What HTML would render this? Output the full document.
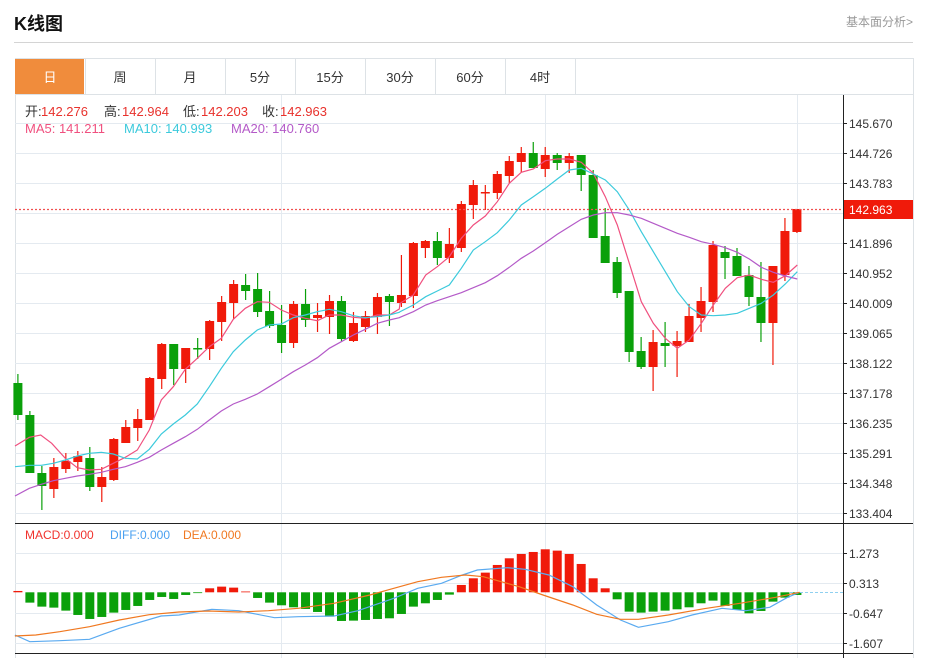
<!DOCTYPE html>
<html><head><meta charset="utf-8">
<style>
body{margin:0;background:#fff;font-family:"Liberation Sans","Noto Sans CJK SC",sans-serif;}
#wrap{position:relative;width:925px;height:658px;overflow:hidden;}
.abs{position:absolute;white-space:nowrap;}
</style></head><body>
<div id="wrap">
<div class="abs" style="left:14px;top:10px;font-size:18px;font-weight:bold;color:#111;">K线图</div>
<div class="abs" style="right:12px;top:13px;font-size:12px;color:#999;">基本面分析&gt;</div>
<div class="abs" style="left:14px;top:42px;width:899px;height:1px;background:#d4d4d4;"></div>
<svg id="s" width="925" height="658" style="position:absolute;left:0;top:0" xmlns="http://www.w3.org/2000/svg"></svg>
</div>
<script>
var S=document.getElementById('s');var h='';
function L(x1,y1,x2,y2,c,w,d){h+='<line x1="'+x1+'" y1="'+y1+'" x2="'+x2+'" y2="'+y2+'" stroke="'+c+'" stroke-width="'+(w||1)+'"'+(d?' stroke-dasharray="'+d+'"':'')+'/>';}
function R(x,y,w,hh,c,st){h+='<rect x="'+x+'" y="'+y+'" width="'+w+'" height="'+hh+'" fill="'+c+'"'+(st?' stroke="'+st+'"':'')+'/>';}
function T(x,y,t,c,s,a){h+='<text x="'+x+'" y="'+y+'" fill="'+c+'" font-size="'+s+'" '+(a?'text-anchor="'+a+'"':'')+' font-family="Liberation Sans, Noto Sans CJK SC, sans-serif">'+t+'</text>';}
// frame
L(15,58.5,913,58.5,'#dde2e6');L(15,94.5,913,94.5,'#dde2e6');L(913.5,58,913.5,658,'#dde2e6');L(15.5,58,15.5,658,'#dde2e6');
var tabs=['日','周','月','5分','15分','30分','60分','4时'];
for(var i=0;i<8;i++){var x=15+i*70; if(i==0)R(15,59,69,35,'#f08c3c'); L(x+70.5,58,x+70.5,94,'#dde2e6'); T(x+35,82,tabs[i],i==0?'#fff':'#333',13,'middle');}
// grids
for(var y=123;y<=513;y+=30)L(15,y+.5,843,y+.5,'#e4eaf0');
for(var y=553;y<=643;y+=30)L(15,y+.5,843,y+.5,'#e4eaf0');
[281,545,797].forEach(function(x){L(x+.5,95,x+.5,658,'#e4eaf0');});
// axes
L(843.5,95,843.5,658,'#222');L(15,523.5,913,523.5,'#222');L(15,653.5,913,653.5,'#222');
var pl=['145.670','144.726','143.783','','141.896','140.952','140.009','139.065','138.122','137.178','136.235','135.291','134.348','133.404'];
for(var k=0;k<14;k++){var y=123+30*k; if(pl[k]){L(843,y+.5,847,y+.5,'#222');T(849,y+5,pl[k],'#333',12);}}
var ml=['1.273','0.313','-0.647','-1.607'];
for(var k=0;k<4;k++){var y=553+30*k;L(843,y+.5,847,y+.5,'#222');T(849,y+5,ml[k],'#333',12);}
// candles [bodyTop,bodyBot,wickTop,wickBot,red?]
var C=[[383,415,374,420,0],[415,473,411,473,0],[473,486,466,510,0],[467,489,458,498,1],[461,469,453,473,1],[456,462,451,471,1],[458,487,447,491,0],[477,487,467,502,1],[439,480,438,481,1],[427,443,420,443,1],[419,428,409,441,1],[378,420,377,420,1],[344,379,343,389,1],[344,369,344,385,0],[348,369,348,383,1],[348,349,338,359,0],[321,349,320,360,1],[302,322,296,341,1],[284,303,280,319,1],[285,291,274,300,0],[289,312,273,317,0],[311,326,291,328,0],[325,343,305,353,0],[304,343,301,348,1],[304,320,289,327,0],[315,318,303,332,1],[301,317,295,334,1],[301,339,296,341,0],[323,341,312,342,1],[316,327,311,332,1],[297,317,293,334,1],[296,302,294,326,0],[295,303,255,307,1],[243,296,242,308,1],[241,248,240,258,1],[241,258,232,265,0],[244,258,228,263,1],[204,248,201,252,1],[185,205,180,219,1],[192,193,185,210,1],[174,193,171,199,1],[161,176,156,183,1],[153,162,147,172,1],[153,168,142,168,0],[155,169,147,177,1],[155,163,153,170,0],[156,163,153,173,1],[155,175,155,191,0],[175,238,170,238,0],[236,263,208,263,0],[262,293,257,298,0],[291,352,291,362,0],[351,367,337,369,0],[342,367,330,391,1],[343,346,322,367,0],[341,346,331,377,1],[316,342,304,342,1],[301,318,287,332,1],[245,302,241,312,1],[252,258,246,279,0],[256,276,248,276,0],[275,297,266,306,0],[297,323,262,342,0],[266,323,266,365,1],[231,275,218,281,1],[209,232,209,233,1]];
function cx(i){return 17.9+i*11.985;}
C.forEach(function(c,i){var x=cx(i),col=c[4]?'#f01a0a':'#0aa00a';L(x,c[2],x,c[3],col,1.2);R(x-4.5,c[0],9,Math.max(1.5,c[1]-c[0]),col);});
// MA lines
function pl2(a,b,col){var p=[];a.forEach(function(q){p.push((q[0]/3).toFixed(1)+','+(130+q[1]/3).toFixed(1));});b.forEach(function(q){p.push((400+q[0]/3).toFixed(1)+','+(130+q[1]/3).toFixed(1));});h+='<polyline fill="none" stroke="'+col+'" stroke-width="1.2" points="'+p.join(' ')+'"/>';}
pl2([[45,948],[88,922],[122,915],[155,940],[196,985],[232,1013],[268,1020],[304,1018],[340,1000],[376,982],[412,960],[448,900],[484,810],[520,770],[556,718],[592,685],[628,650],[664,625],[700,568],[736,535],[772,515],[808,517],[844,540],[880,555],[916,565],[952,572],[988,555],[1024,555],[1060,562],[1096,565],[1132,555],[1168,555],[1198,537]],
[[0,520],[40,495],[77,435],[112,410],[148,380],[184,325],[220,285],[256,258],[292,215],[328,160],[364,127],[400,117],[436,92],[472,87],[508,87],[544,97],[580,130],[616,200],[652,285],[688,400],[724,515],[760,580],[796,625],[832,655],[868,630],[904,580],[940,525],[976,475],[1012,443],[1048,435],[1084,448],[1120,457],[1156,437],[1192,405]],'#f0507f');
pl2([[45,1010],[88,1006],[124,1006],[160,1000],[196,990],[232,978],[268,970],[304,967],[340,972],[376,985],[412,987],[448,958],[484,912],[520,882],[556,855],[592,822],[628,770],[664,715],[700,665],[736,630],[772,600],[808,585],[844,582],[880,563],[916,555],[952,545],[988,538],[1024,545],[1060,557],[1096,563],[1132,560],[1168,555],[1198,547]],
[[0,545],[40,525],[77,500],[112,483],[148,465],[184,415],[220,360],[256,335],[292,308],[328,270],[364,225],[400,200],[436,175],[472,147],[508,120],[544,115],[580,132],[616,150],[652,185],[688,240],[724,305],[760,365],[796,425],[832,485],[868,530],[904,555],[940,557],[976,555],[1012,550],[1048,535],[1084,520],[1120,495],[1156,462],[1192,425]],'#3ccadc');
pl2([[45,1098],[88,1075],[124,1063],[160,1052],[196,1045],[232,1038],[268,1033],[304,1027],[340,1018],[376,1010],[412,997],[448,982],[484,960],[520,940],[556,920],[592,898],[628,870],[664,843],[700,822],[736,808],[772,792],[808,770],[844,748],[880,725],[916,705],[952,683],[988,655],[1024,635],[1060,615],[1096,598],[1132,580],[1168,570],[1198,563]],
[[0,562],[40,545],[77,525],[112,512],[148,500],[184,488],[220,473],[256,458],[292,437],[328,412],[364,385],[400,363],[436,338],[472,313],[508,290],[544,268],[580,255],[616,248],[652,248],[688,255],[724,265],[760,280],[796,295],[832,310],[868,322],[904,335],[940,343],[976,353],[1012,367],[1048,387],[1084,412],[1120,427],[1156,438],[1192,447]],'#b45ac8');
// last price
L(15,209.5,843,209.5,'#f05050',1.2,'2,2');R(844,200,69,19,'#f01a0a');T(849,214,'142.963','#fff',12);
// legends
T(25,116,'开:','#333',13);T(41,116,'142.276','#e8322d',13);T(104,116,'高:','#333',13);T(122,116,'142.964','#e8322d',13);T(183,116,'低:','#333',13);T(201,116,'142.203','#e8322d',13);T(262,116,'收:','#333',13);T(280,116,'142.963','#e8322d',13);
T(25,133,'MA5: 141.211','#f0507f',13);T(124,133,'MA10: 140.993','#3ccadc',13);T(231,133,'MA20: 140.760','#b45ac8',13);
T(25,539,'MACD:0.000','#f0322d',12);T(110,539,'DIFF:0.000','#4aa0f0',12);T(183,539,'DEA:0.000','#f07820',12);
// MACD bars
var M=[213,248,260,263,272,285,297,291,278,270,258,240,231,237,225,219,205,200,203,216,234,248,256,262,267,276,290,303,302,300,297,295,282,260,250,240,224,195,175,158,135,115,102,96,88,92,102,132,175,205,238,275,278,275,272,268,262,250,242,258,270,280,273,245,233,225];
var z0=592.3;
M.forEach(function(v,i){var x=cx(i),hh=(v-217)/3,col=hh<0?'#f01a0a':'#0aa00a';if(Math.abs(hh)<0.8)hh=hh<0?-0.8:0.8;R(x-4.5,hh<0?z0+hh:z0,9,Math.abs(hh),col);});
L(790,592.5,843,592.5,'#8fd0f0',1,'3,2');
function pm(a,col){var p=a.map(function(q){return (q[0]/1.676).toFixed(1)+','+(520+q[1]/3).toFixed(1);});h+='<polyline fill="none" stroke="'+col+'" stroke-width="1.2" points="'+p.join(' ')+'"/>';}
pm([[25,345],[50,365],[100,362],[150,358],[200,325],[270,288],[300,285],[355,268],[400,272],[460,293],[500,290],[560,288],[600,272],[660,235],[700,205],[740,190],[775,165],[800,150],[850,143],[880,148],[920,165],[960,200],[1000,255],[1040,300],[1070,322],[1120,305],[1160,285],[1210,265],[1250,272],[1290,262],[1320,232],[1340,217]],'#5aaaf0');
pm([[25,348],[60,345],[100,335],[150,320],[200,300],[250,284],[300,276],[350,273],[400,276],[450,272],[500,265],[560,250],[620,225],[660,205],[700,185],[740,172],[780,165],[810,170],[840,185],[870,200],[910,225],[960,255],[1000,283],[1040,298],[1070,298],[1120,285],[1180,266],[1240,250],[1300,232],[1340,217]],'#f07820');
S.innerHTML=h;
</script>
</body></html>
